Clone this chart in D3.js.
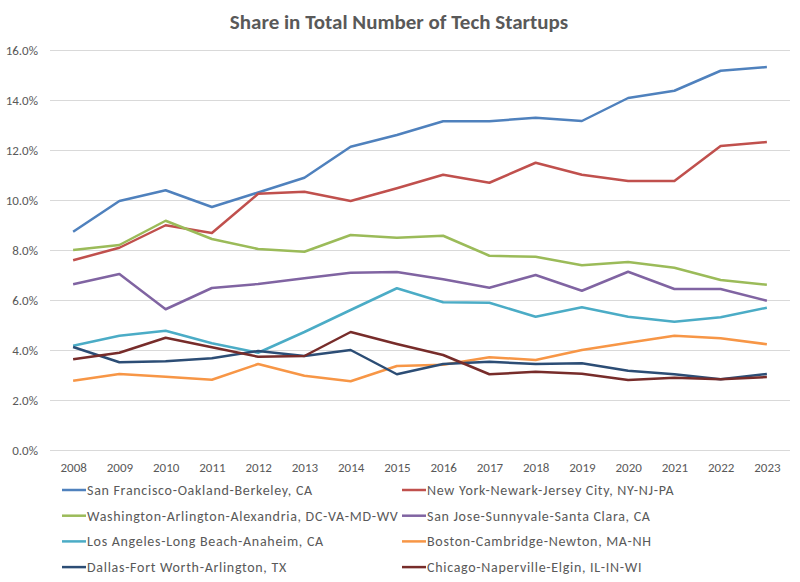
<!DOCTYPE html>
<html>
<head>
<meta charset="utf-8">
<script src="https://cdn.jsdelivr.net/npm/d3@7"></script>
<style>
    body { margin: 0; background: #fff; }
    text { font-family: Carlito, Calibri, "Liberation Sans Narrow", "Open Sans", sans-serif; fill: #595959; }
</style>
</head>
<body>
<div class="chart"></div>
<script>
var years = ["2008", "2009", "2010", "2011", "2012", "2013", "2014", "2015",
             "2016", "2017", "2018", "2019", "2020", "2021", "2022", "2023"];

var sanFrancisco = [8.73, 9.96, 10.39, 9.72, 10.3, 10.89, 12.13, 12.6, 13.15, 13.15, 13.29, 13.16, 14.08, 14.37, 15.17, 15.32];
var newYork      = [7.59, 8.09, 8.99, 8.68, 10.25, 10.33, 9.96, 10.47, 11.01, 10.69, 11.49, 11.01, 10.76, 10.76, 12.16, 12.32];
var washington   = [8.0, 8.2, 9.17, 8.44, 8.04, 7.93, 8.6, 8.49, 8.57, 7.77, 7.73, 7.39, 7.52, 7.29, 6.8, 6.61];
var sanJose      = [6.63, 7.04, 5.63, 6.48, 6.64, 6.87, 7.09, 7.12, 6.83, 6.49, 7.0, 6.37, 7.13, 6.44, 6.44, 5.97];
var losAngeles   = [4.17, 4.57, 4.77, 4.27, 3.89, 4.72, 5.6, 6.47, 5.91, 5.89, 5.33, 5.71, 5.33, 5.13, 5.31, 5.69];
var boston       = [2.77, 3.04, 2.93, 2.81, 3.44, 2.97, 2.75, 3.36, 3.41, 3.71, 3.6, 4.0, 4.29, 4.57, 4.47, 4.23];
var dallas       = [4.12, 3.51, 3.55, 3.67, 3.96, 3.76, 4.0, 3.03, 3.44, 3.53, 3.44, 3.47, 3.17, 3.03, 2.83, 3.04];
var chicago      = [3.63, 3.89, 4.49, 4.11, 3.73, 3.76, 4.72, 4.24, 3.8, 3.03, 3.13, 3.05, 2.8, 2.89, 2.83, 2.92];

var seriesNames = [
    "San Francisco-Oakland-Berkeley, CA",
    "New York-Newark-Jersey City, NY-NJ-PA",
    "Washington-Arlington-Alexandria, DC-VA-MD-WV",
    "San Jose-Sunnyvale-Santa Clara, CA",
    "Los Angeles-Long Beach-Anaheim, CA",
    "Boston-Cambridge-Newton, MA-NH",
    "Dallas-Fort Worth-Arlington, TX",
    "Chicago-Naperville-Elgin, IL-IN-WI"
];
var seriesValues = [sanFrancisco, newYork, washington, sanJose, losAngeles, boston, dallas, chicago];
var yTicks = [0, 2, 4, 6, 8, 10, 12, 14, 16];

var colors = ["#4f81bd", "#c0504d", "#9bbb59", "#8064a2", "#4bacc6", "#f79646", "#2c4d75", "#772c2a"];

var width = 800, height = 582;

var svg = d3.select(".chart").append("svg")
    .attr("width", width)
    .attr("height", height);

var x = d3.scalePoint()
    .domain(years)
    .range([50, 790])
    .padding(0.5);

var y = d3.scaleLinear()
    .domain([0, 16])
    .range([450, 50]);

// title
svg.append("text")
    .attr("x", 399)
    .attr("y", 29)
    .attr("text-anchor", "middle")
    .style("font-size", "21px")
    .style("font-weight", "bold")
    .text("Share in Total Number of Tech Startups");

// horizontal gridlines + y labels
var yAxis = svg.append("g")
    .attr("transform", "translate(50,0)")
    .call(d3.axisLeft(y)
        .tickValues(yTicks)
        .tickSize(-740)
        .tickPadding(12)
        .tickFormat(function(d) { return d.toFixed(1) + "%"; }));
yAxis.select(".domain").remove();
yAxis.selectAll("line").attr("stroke", "#d9d9d9").attr("stroke-width", 1);
yAxis.selectAll("text").style("font-size", "13px").style("fill", "#595959");

// x labels
var xAxis = svg.append("g")
    .attr("transform", "translate(0,450)")
    .call(d3.axisBottom(x).tickSize(0).tickPadding(13));
xAxis.select(".domain").remove();
xAxis.selectAll("text").style("font-size", "13px").style("fill", "#595959");

var line = d3.line()
    .x(function(d, i) { return x(years[i]); })
    .y(function(d) { return y(d); });

svg.selectAll(".series")
    .data(seriesValues)
    .enter()
    .append("path")
    .attr("class", "series")
    .attr("d", line)
    .attr("fill", "none")
    .attr("stroke", function(d, i) { return colors[i]; })
    .attr("stroke-width", 2.5)
    .attr("stroke-linejoin", "round");

// legend, two columns
var legend = svg.selectAll(".legendItem")
    .data(seriesNames)
    .enter()
    .append("g")
    .attr("class", "legendItem")
    .attr("transform", function(d, i) {
        var lx = (i % 2 == 0) ? 62 : 402;
        var ly = 490 + Math.floor(i / 2) * 25.7;
        return "translate(" + lx + "," + ly + ")";
    });

legend.append("line")
    .attr("x1", 0)
    .attr("x2", 24)
    .attr("stroke", function(d, i) { return colors[i]; })
    .attr("stroke-width", 2.5);

legend.append("text")
    .attr("x", 25)
    .attr("dy", "0.35em")
    .style("font-size", "14px")
    .style("letter-spacing", "0.7px")
    .text(function(d) { return d; });
</script>
</body>
</html>
